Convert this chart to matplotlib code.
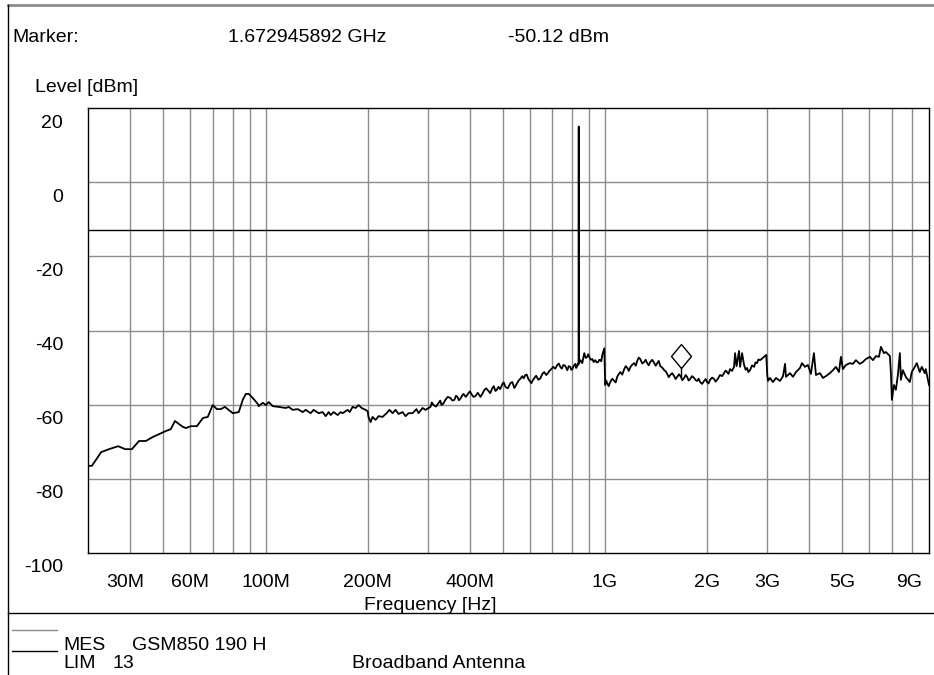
import matplotlib
matplotlib.use("Agg")
import matplotlib.pyplot as plt
import numpy as np
from matplotlib.lines import Line2D
from matplotlib.transforms import ScaledTranslation

plt.rcParams['font.family'] = ['Liberation Sans', 'DejaVu Sans']
plt.rcParams['font.size'] = 14

# Measured trace, GSM850 ch190 horizontal (MHz / dBm), one list pair per receiver band
band_a_mhz = [
    30.0, 30.8, 32.8, 34.6, 36.8, 38.6, 40.4, 42.4, 44.4, 46.6,
    50.9, 52.6, 54.1, 57.1, 58.3, 60.3, 62.8, 65.4, 67.6, 69.9,
    71.9, 73.8, 75.9, 80.1, 83.4, 85.7, 87.5, 89.3, 91.7, 94.9,
    95.5, 98.2, 100.2, 102.2, 105.0, 109.4, 114.7, 117.0, 120.2, 124.4,
    128.7, 131.3, 135.8, 138.6, 143.4, 147.3, 150.4, 153.4, 155.5, 158.7,
    163.1, 166.4, 168.7, 174.5, 177.0, 180.5, 184.2, 188.0, 191.9, 197.2,
    200.0, 201.0, 204.0, 206.7, 211.0, 215.3, 221.2, 227.3, 231.9, 236.7,
    241.6, 246.5, 253.3, 258.5, 263.8, 271.1, 278.5, 282.3, 290.0, 296.0,
    306.1, 309.0, 312.4, 318.0, 323.2, 327.0, 330.0, 334.0, 338.8, 344.0,
    350.5, 355.0, 360.0, 364.0, 367.5, 371.0, 375.0, 379.0, 382.8, 389.0,
    396.0, 400.0, 405.0, 410.0, 415.2, 422.0, 429.6, 435.0, 441.4, 447.0,
    453.5, 459.0, 465.9, 470.0, 475.5, 480.0, 485.3, 491.0, 498.7, 503.0,
    508.9, 517.0, 526.4, 533.0, 540.9, 548.0, 555.6, 563.0, 570.9, 576.0,
    582.6, 588.0, 594.6, 600.0, 606.8, 613.0, 619.2, 627.0, 636.2, 645.0,
    653.6, 662.0, 671.5, 678.0, 685.3, 695.0, 704.3, 713.0, 723.6, 731.0,
    738.4, 746.0, 753.6, 763.0, 774.2, 782.0, 790.1, 795.0, 800.9, 809.0,
    817.5, 822.0, 826.0, 831.0, 835.6, 836.6, 837.6, 846.0, 857.1, 862.0,
    868.9, 877.0, 886.7, 892.0, 898.7, 908.0, 917.4, 926.0, 936.1, 945.0,
    955.3, 961.0, 968.3, 975.0, 981.6, 995.0,
]
band_a_dbm = [
    -76.5, -76.5, -72.8, -72.0, -71.2, -72.0, -72.0, -69.8, -69.8, -68.7,
    -67.1, -66.6, -64.4, -66.0, -66.3, -65.8, -65.8, -63.6, -63.3, -60.1,
    -61.2, -61.2, -60.6, -62.3, -62.0, -58.7, -57.1, -57.1, -58.2, -59.8,
    -60.4, -59.5, -60.1, -59.3, -60.4, -60.6, -60.9, -60.6, -61.4, -61.2,
    -62.0, -61.4, -62.3, -61.4, -62.3, -62.0, -63.1, -62.0, -62.8, -62.0,
    -62.8, -62.0, -62.3, -61.4, -62.0, -60.6, -60.9, -60.1, -60.9, -61.4,
    -61.8, -63.3, -64.7, -63.3, -64.1, -63.1, -63.3, -62.3, -61.4, -62.3,
    -61.4, -62.5, -62.0, -63.1, -62.3, -62.3, -61.2, -62.3, -60.9, -61.4,
    -60.6, -59.4, -60.1, -60.5, -59.6, -58.9, -60.1, -59.7, -58.7, -57.9,
    -58.2, -58.9, -58.7, -57.6, -57.9, -58.8, -58.4, -57.6, -57.1, -57.9,
    -56.9, -56.4, -57.3, -57.9, -57.7, -56.8, -57.9, -57.1, -56.0, -55.6,
    -56.3, -56.9, -55.5, -55.0, -56.3, -56.0, -55.2, -55.8, -54.4, -54.0,
    -55.2, -55.6, -54.2, -53.9, -55.5, -54.6, -53.6, -53.0, -52.3, -52.9,
    -52.0, -51.9, -53.1, -53.6, -54.2, -53.4, -52.8, -52.2, -53.3, -52.9,
    -51.7, -51.2, -52.0, -51.6, -50.9, -50.4, -49.8, -50.3, -49.3, -48.9,
    -49.8, -50.3, -49.3, -49.5, -50.7, -49.6, -49.8, -50.6, -50.4, -49.5,
    -49.0, -50.1, -49.8, -49.0, -49.2, 15.0, -48.8, -48.0, -48.8, -47.6,
    -46.1, -47.4, -47.1, -46.4, -47.1, -47.9, -47.7, -48.5, -48.0, -48.6,
    -48.5, -47.9, -48.0, -48.3, -46.6, -44.8,
]
band_b_mhz = [
    1001, 1008, 1015, 1025, 1036, 1050, 1064, 1075, 1086, 1097,
    1109, 1124, 1139, 1151, 1163, 1175, 1187, 1203, 1219, 1232,
    1244, 1257, 1270, 1287, 1304, 1317, 1331, 1345, 1359, 1378,
    1396, 1410, 1425, 1440, 1454, 1474, 1494, 1509, 1524, 1540,
    1556, 1577, 1598, 1614, 1631, 1652, 1673, 1690, 1710, 1728,
    1745, 1763, 1781, 1805, 1830, 1849, 1868, 1887, 1906, 1932,
    1958, 1978, 1998, 2018, 2039, 2067, 2096, 2117, 2138, 2160,
    2182, 2212, 2242, 2265, 2288, 2311, 2335, 2367, 2399, 2416,
    2440, 2482, 2499, 2533, 2568, 2595, 2620, 2645, 2674, 2710,
    2747, 2775, 2804, 2830, 2861, 2900, 2940, 2985,
]
band_b_dbm = [
    -54.7, -53.5, -54.2, -55.0, -53.9, -53.0, -53.6, -54.0, -52.5, -51.8,
    -51.2, -51.9, -50.4, -49.6, -50.1, -50.9, -49.9, -49.2, -48.8, -49.5,
    -48.2, -47.3, -47.7, -48.9, -48.5, -47.9, -48.8, -49.4, -48.5, -47.9,
    -48.8, -49.5, -48.8, -48.2, -49.6, -50.0, -50.7, -51.0, -51.7, -52.6,
    -52.0, -51.5, -52.3, -53.1, -52.5, -51.8, -52.5, -53.4, -52.8, -52.0,
    -52.5, -53.5, -53.1, -52.3, -52.8, -53.4, -53.6, -53.0, -53.9, -54.4,
    -53.6, -53.1, -53.9, -54.3, -53.3, -52.7, -53.1, -53.8, -53.3, -52.7,
    -52.0, -52.3, -51.5, -50.8, -51.2, -51.7, -50.4, -50.9, -49.8, -46.1,
    -49.6, -45.5, -49.8, -46.1, -49.3, -50.6, -50.1, -51.2, -50.7, -49.4,
    -49.8, -48.6, -48.8, -47.8, -48.0, -47.6, -47.1, -46.6,
]
band_c_mhz = [
    3005, 3020, 3061, 3124, 3189, 3276, 3344, 3390, 3412, 3506,
    3578, 3652, 3752, 3803, 3880, 3959, 4040, 4124, 4181, 4296,
    4384, 4473, 4596, 4691, 4787, 4886, 4952, 5020, 5123, 5264,
    5371, 5481, 5631, 5747, 5865, 6030, 6154, 6280, 6409, 6496,
    6628, 6718, 6903, 6951, 6998, 7092, 7189, 7287, 7386, 7437,
    7536, 7691, 7901, 8009, 8174, 8285, 8454, 8570, 8746, 8804,
    9000,
]
band_c_dbm = [
    -52.0, -53.6, -52.8, -53.9, -52.8, -53.6, -52.3, -49.0, -52.5, -51.5,
    -52.5, -51.2, -50.1, -48.8, -49.8, -49.3, -51.7, -46.1, -52.0, -51.5,
    -52.8, -52.3, -51.5, -50.7, -49.8, -51.2, -47.1, -50.4, -49.3, -48.8,
    -49.0, -48.0, -49.0, -48.5, -47.7, -47.1, -48.0, -46.9, -47.1, -44.4,
    -46.1, -45.8, -46.9, -51.5, -58.7, -54.7, -56.0, -52.0, -46.1, -53.3,
    -50.7, -52.5, -53.9, -51.2, -49.8, -48.8, -51.2, -49.8, -51.5, -50.4,
    -54.7,
]

limit_dbm = -13.0
marker_freq_ghz = 1.672945892
marker_level_dbm = -50.12

level_ticks = [20, 0, -20, -40, -60, -80, -100]
freq_ticks_mhz = [30, 60, 100, 200, 400, 1000, 2000, 3000, 5000, 9000]
freq_tick_labels = ['30M', '60M', '100M', '200M', '400M', '1G', '2G', '3G', '5G', '9G']
freq_grid_mhz = [40, 50, 60, 70, 80, 90, 100, 200, 300, 400, 500, 600, 700, 800, 900,
                 1000, 2000, 3000, 4000, 5000, 6000, 7000, 8000]

W, H = 934, 675
fig = plt.figure(figsize=(W / 100, H / 100), dpi=100)
ax = fig.add_axes([88 / W, 1 - 553 / H, (929 - 88) / W, (553 - 108) / H])

freq_hz = np.array(band_a_mhz + band_b_mhz + band_c_mhz) * 1e6
level_dbm = np.array(band_a_dbm + band_b_dbm + band_c_dbm)

ax.set_xscale('log')
ax.set_xlim(30e6, 9e9)
ax.set_ylim(-100, 20)

grid_kw = dict(color='#8c8c8c', lw=1, zorder=1)
for f in freq_grid_mhz:
    ax.axvline(f * 1e6, **grid_kw)
for lv in level_ticks[1:-1]:
    ax.axhline(lv, **grid_kw)
ax.axhline(limit_dbm, color='black', lw=1, zorder=2)

ax.plot(freq_hz, level_dbm, color='black', lw=1.3, zorder=3)

# marker: diamond sits above the reading, stem drops down to the trace
mf = marker_freq_ghz * 1e9
trace_at_marker = np.interp(np.log10(mf), np.log10(freq_hz), level_dbm)
ax.plot([mf, mf], [marker_level_dbm, trace_at_marker], color='black', lw=1, zorder=4)
diamond = [(0, -1.2), (1, 0), (0, 1.2), (-1, 0), (0, -1.2)]
lift = ax.transData + ScaledTranslation(0, 12 / 100, fig.dpi_scale_trans)
ax.plot([mf], [marker_level_dbm], marker=diamond, ms=17.3, mfc='white', mec='black',
        mew=1, transform=lift, zorder=5, clip_on=False)

for s in ax.spines.values():
    s.set_linewidth(1)
    s.set_color('black')

ax.set_xticks([f * 1e6 for f in freq_ticks_mhz])
ax.set_xticklabels(freq_tick_labels)
ax.xaxis.set_minor_locator(matplotlib.ticker.NullLocator())
ax.set_yticks(level_ticks)
ax.set_yticklabels([str(v) for v in level_ticks])
ax.tick_params(axis='both', length=0)
ax.tick_params(axis='x', pad=15)
ax.tick_params(axis='y', pad=18)

# labels sit below their grid lines; end labels are pulled inside the frame
for lbl in ax.get_yticklabels():
    lbl.set_transform(lbl.get_transform() + ScaledTranslation(0, -13 / 100, fig.dpi_scale_trans))
xl = ax.get_xticklabels()
xl[0].set_transform(xl[0].get_transform() + ScaledTranslation(37 / 100, 0, fig.dpi_scale_trans))
xl[-1].set_transform(xl[-1].get_transform() + ScaledTranslation(-20 / 100, 0, fig.dpi_scale_trans))


def fx(px):
    return px / W


def fy(py):
    return 1 - py / H


fig.text(fx(430), fy(605), 'Frequency [Hz]', ha='center', va='center')
fig.text(fx(12), fy(37), 'Marker:', va='center')
fig.text(fx(228), fy(37), '1.672945892 GHz', va='center')
fig.text(fx(508), fy(37), '-50.12 dBm', va='center')
fig.text(fx(35), fy(88), 'Level [dBm]', va='center')

fig.text(fx(63), fy(645), 'MES', va='center')
fig.text(fx(132), fy(645), 'GSM850 190 H', va='center')
fig.text(fx(63), fy(663), 'LIM', va='center')
fig.text(fx(112), fy(663), '13', va='center')
fig.text(fx(352), fy(663), 'Broadband Antenna', va='center')

# page frame and legend strokes
frame = [
    ((8, 934), (5, 5), '#8c8c8c', 2),
    ((8, 8), (5, 675), 'black', 1),
    ((8, 934), (613, 613), 'black', 1),
    ((12, 57), (630, 630), '#8c8c8c', 1),
    ((12, 57), (651, 651), 'black', 1),
]
for xs, ys, c, w in frame:
    fig.add_artist(Line2D([fx(x) for x in xs], [fy(y) for y in ys], color=c, lw=w))

fig.savefig('out.png', dpi=100)
